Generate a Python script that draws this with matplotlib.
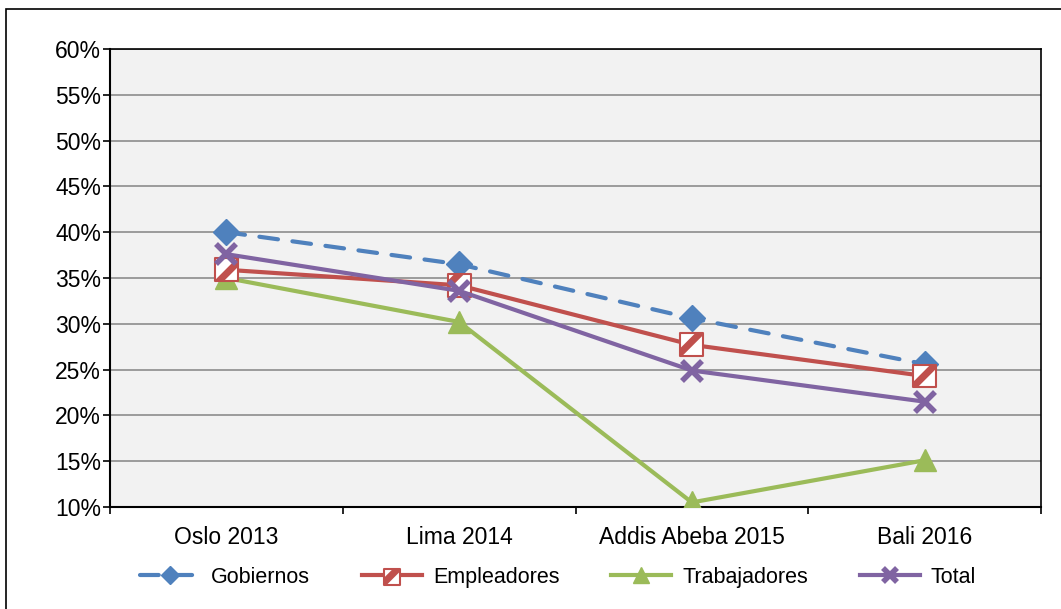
import matplotlib.pyplot as plt
from matplotlib.patches import Rectangle
from matplotlib.legend_handler import HandlerTuple
import numpy as np

plt.rcParams['font.family'] = ['Liberation Sans', 'DejaVu Sans']
plt.rcParams['hatch.linewidth'] = 5

categories = ['Oslo 2013', 'Lima 2014', 'Addis Abeba 2015', 'Bali 2016']
gobiernos = [40.0, 36.5, 30.6, 25.6]
empleadores = [35.9, 34.2, 27.7, 24.3]
trabajadores = [35.0, 30.2, 10.5, 15.1]
total = [37.6, 33.6, 24.9, 21.5]
yticks = [10, 15, 20, 25, 30, 35, 40, 45, 50, 55, 60]

blue = '#4F81BD'
red = '#C0504D'
green = '#9BBB59'
purple = '#8064A2'

fig = plt.figure(figsize=(10.61, 6.09), dpi=100)
ax = fig.add_axes([110/1061, 102/609, 931/1061, 458/609])
ax.set_facecolor('#F2F2F2')

# outer chart frame (cropped at right/bottom like the source)
fig.patches.append(Rectangle((6/1061, -0.05), 1.1, 600/609 + 0.05,
                             transform=fig.transFigure, fill=False,
                             edgecolor='black', linewidth=1.2))

x = np.arange(len(categories))

h1, = ax.plot(x, gobiernos, color=blue, lw=3, ls=(0, (4.5, 3.5)),
              dash_capstyle='round', marker='D', ms=13, mec=blue, mfc=blue,
              zorder=3)
l2, = ax.plot(x, empleadores, color=red, lw=3, zorder=4)
s2 = ax.scatter(x, empleadores, marker='s', s=270, facecolor='white',
                edgecolor=red, hatch='/', linewidth=1.5, zorder=5)
h3, = ax.plot(x, trabajadores, color=green, lw=3, marker='^', ms=16,
              mec=green, mfc=green, zorder=4)
h4, = ax.plot(x, total, color=purple, lw=3, marker='x', ms=15, mew=4,
              zorder=6)

ax.set_xlim(-0.5, len(categories) - 0.5)
ax.set_ylim(10, 60)
ax.set_yticks(yticks)
ax.set_yticklabels([f'{v}%' for v in yticks])
ax.yaxis.grid(True, color='#8C8C8C', lw=1.2)
ax.set_axisbelow(True)

ax.set_xticks(x)
ax.set_xticklabels(categories)
ax.set_xticks(np.arange(-0.5, len(categories)), minor=True)
ax.tick_params(axis='x', which='major', length=0, pad=14, labelsize=16.5)
ax.tick_params(axis='x', which='minor', length=5, width=1.2, direction='out')
ax.tick_params(axis='y', length=5, width=1.2, labelsize=16.5, pad=1.5)

for sp in ax.spines.values():
    sp.set_color('black')
    sp.set_linewidth(1.5)
ax.spines['top'].set_linewidth(1.2)
ax.spines['right'].set_linewidth(1.2)

leg = fig.legend([h1, (l2, s2), h3, h4],
                 ['Gobiernos', 'Empleadores', 'Trabajadores', 'Total'],
                 handler_map={tuple: HandlerTuple(ndivide=1)},
                 loc='center', bbox_to_anchor=(0.526, 0.052), ncol=4,
                 frameon=False, fontsize=15.5, handlelength=2.8,
                 columnspacing=2.4, handletextpad=0.5, markerscale=0.7)

fig.savefig('out.png', dpi=100)
